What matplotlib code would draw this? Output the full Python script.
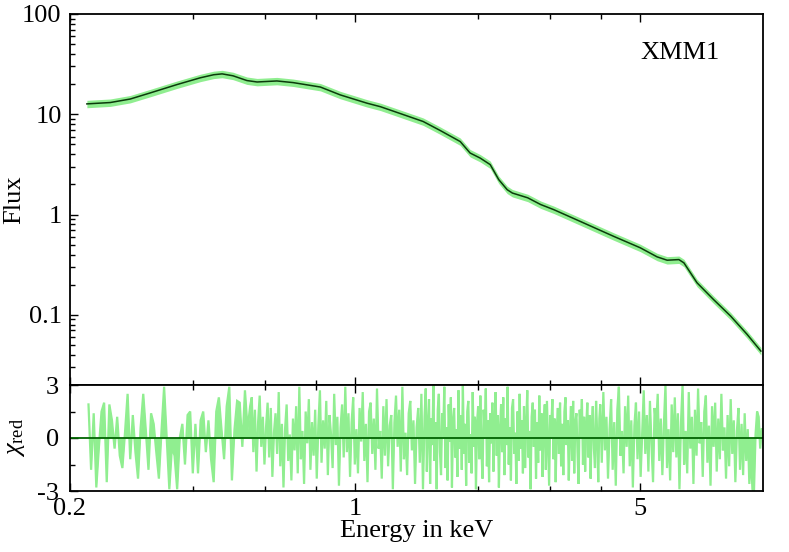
import numpy as np
import matplotlib
matplotlib.use('Agg')
import matplotlib.pyplot as plt
from matplotlib.ticker import FixedLocator, FixedFormatter, NullFormatter

plt.rcParams['font.family'] = ['Liberation Serif', 'DejaVu Serif']
plt.rcParams['mathtext.fontset'] = 'custom'
plt.rcParams['mathtext.rm'] = 'Liberation Serif'
plt.rcParams['mathtext.it'] = 'Liberation Serif:italic'
plt.rcParams['axes.unicode_minus'] = False

# ---- model spectrum (keV, flux) ----
energy_model = [0.220, 0.251, 0.281, 0.314, 0.366, 0.417, 0.450, 0.472, 0.502, 0.543,
                0.575, 0.643, 0.705, 0.822, 0.920, 1.07, 1.154, 1.288, 1.468, 1.616,
                1.81, 1.914, 2.026, 2.144, 2.25, 2.36, 2.43, 2.65, 2.85, 3.07,
                3.56, 4.30, 5.00, 5.50, 5.82, 6.22, 6.40, 6.89, 7.56, 8.33,
                9.14, 9.88]
flux_model = [12.7, 13.1, 14.2, 16.3, 19.8, 23.1, 24.8, 25.3, 24.2, 21.7,
              21.0, 21.5, 20.7, 18.7, 15.6, 12.9, 11.9, 10.2, 8.48, 6.9,
              5.35, 4.11, 3.66, 3.15, 2.23, 1.77, 1.64, 1.47, 1.26, 1.12,
              0.857, 0.608, 0.467, 0.379, 0.351, 0.356, 0.330, 0.209, 0.1426, 0.0973,
              0.064, 0.0436]
band_frac = 0.085   # relative data uncertainty drawn as band

# ---- residuals (chi) per energy segment ----
res_seg1 = [1.9, -1.8, 1.4, -2.8, -0.5, 1.5, 2.0, -2.5, 1.9, 1.0, -0.6, 1.2, -1.0, -1.7, 0.3,
            2.5, -1.2, 1.3, -0.8, -2.3, 0.6, 2.5, 0.4, -1.8, 1.4, 0.8, -0.8, -2.3, 0.4, 2.9,
            0.0, -2.9, -0.5, -1.0, -2.9, 0.0, 0.8, -1.5, 1.3, 1.5, -2.0, 0.8, -2.0, 1.0, 1.5,
            -0.8, 1.0, -1.2, -2.5, 1.5, 2.3, 0.5, -1.2, 1.8, 2.9, -2.4, 0.5, 2.1, 2.0, -0.5,
            2.7, 0.5, 1.8]
res_seg2 = [2.3, -0.8, 1.6, -1.9, 0.9, 2.4, -0.5, 1.2, -1.5, 0.6, 2.0, -1.1, 1.7, -2.2, 0.3,
            1.4, -0.9, 2.6, -1.6, 0.8, -2.8, 0.5, 1.9, -1.3, 0.2, -2.4, 1.1, -0.7, 1.8, -2.0,
            2.9, -1.2, 0.4, -2.6, 1.5, -0.3, 2.2, -1.8, 0.9, -1.0, 1.6, -2.3, 0.7, 2.7, -1.4,
            1.0, -0.6, 2.1, -2.1, 1.3, 0.2, -1.7, 2.5, -0.4, 1.2, -2.7, 0.6, 1.9, -1.1, 2.9,
            -0.8, 1.4, -2.2, 0.9, 2.3, -1.5, 0.5, -2.0, 1.7, -0.2, 2.6, -1.3, 0.8, -2.5, 1.5,
            2.0, -0.9, 1.1, -1.8, 2.8, -0.6, 0.4, -2.3, 1.8, -1.0, 2.2, -1.6, 0.7, 1.3, -2.9,
            0.9, 2.4, -0.5, 1.6, -1.9, 2.9, -1.2, 0.3, -2.1, 1.4, 2.1, -0.7, 1.0, -2.6, 0.6,
            1.7, -1.4, 2.5, -2.9, 1.2]
res_seg3 = [2.8, -1.9, 0.7, 2.2, -2.6, 1.1, -0.4, 3.0, -1.3, 0.9, -2.9, 1.6, 2.5, -0.8, -2.1,
            1.4, 0.3, 2.9, -1.7, 0.6, -2.4, 1.9, -0.2, 2.3, -2.8, 1.0, 1.7, -1.1, 0.5, -2.2,
            2.7, -0.6, 1.3, -1.8, 3.0, -0.9, 0.8, -2.7, 1.5, 2.1, -1.4, 0.2, -2.0, 2.6, -0.5,
            1.2, -2.9, 0.9, 1.8, -1.2, 2.4, -0.7, -2.3, 1.6, 0.4, 2.8, -1.6, 1.0, -2.5, 1.4,
            -0.3, 2.0, -1.9, 0.7, 2.6, -1.0, 1.3, -2.8, 0.5, 1.9, -0.8, 2.3, -2.1, 1.1, -0.4,
            2.9, -1.5, 0.6, -2.4, 1.7, 2.2, -0.9, 0.3, -2.6, 1.5, -1.3, 2.5, -0.6, 1.0, -2.0,
            1.8, -1.7, 0.8, 2.7, -1.1, 0.4, -2.9, 1.2, 2.0, -0.5, 1.6, -2.3, 0.9, -1.4, 2.4,
            -0.7, 1.4, -2.2, 0.6, 1.9, -1.8, 2.1, -0.3, -2.7, 1.3, 0.7, 2.2, -1.2, 1.1, -2.5,
            0.5, 1.7, -0.9, 2.0, -1.6, 0.8, -2.1, 1.5, 2.3, -0.4, 1.0, -2.4, 0.3, 1.8, -1.3,
            2.1, -2.0, 0.9, 1.4, -0.8, -2.6, 1.6, 0.4, 2.2, -1.5, 1.2, -1.9, 0.7, 2.0, -1.1,
            1.3, -2.3, 0.6, 1.8, -0.6, -1.7, 2.1, 0.2, -2.5, 1.1]
res_seg4 = [1.9, -1.4, 2.6, -0.7, 1.2, -2.3, 0.5, 2.2, -1.8, 0.9, -2.7, 1.6, 2.9, -1.0, 0.4,
            -2.0, 1.8, -0.5, 2.4, -1.6, 1.0, -2.8, 0.7, 2.0, -1.2, 1.5, -2.2, 0.3, 2.7, -0.9,
            1.3, -1.9, 2.1, -0.4, -2.5, 1.7, 0.6, 2.5, -1.3, 1.1, -2.1, 0.8, 3.0, -1.7, 0.5,
            -2.4, 1.9, -0.8, 2.3, -1.1, 1.4, -2.9, 0.9, 3.0, -1.5, 0.4, -2.0, 2.6, -0.6, 1.2,
            -2.6, 1.6, -1.0, 2.8, -0.3, 0.9, -2.2, 1.5, 2.4, -1.4, 0.7, -2.7, 1.8, -0.5, 2.0,
            -1.9, 1.1, -1.2, 2.5, -0.7, 0.6, -2.3, 1.3, -1.6, 2.2, -0.9, 1.0, -2.5, 0.4, 1.7,
            -1.8, 0.8, -2.1, 1.4, -1.3, 0.5, -2.6, -1.0, -2.9, -3.0, 0.2, 1.5, 1.2, -0.6, 0.5]
res_ranges = [(0.222, 0.553), (0.558, 1.48), (1.49, 3.97), (3.99, 9.93)]

x_ticks = [0.2, 1, 5]
x_tick_labels = ['0.2', '1', '5']
x_minor = [0.4, 0.6, 0.8, 2, 3, 4]
y_ticks = [0.1, 1, 10, 100]
y_tick_labels = ['0.1', '1', '10', '100']
r_ticks = [-3, 0, 3]
r_tick_labels = ['-3', '0', '3']

res_energy = np.concatenate([np.geomspace(a, b, len(s)) for (a, b), s in
                             zip(res_ranges, [res_seg1, res_seg2, res_seg3, res_seg4])])
res_vals = np.array(res_seg1 + res_seg2 + res_seg3 + res_seg4)

W, H = 789, 552
fig = plt.figure(figsize=(W / 100, H / 100), dpi=100)
L, R = 70 / W, 763 / W
ax = fig.add_axes([L, 1 - 385 / H, R - L, (385 - 14) / H])
axr = fig.add_axes([L, 1 - 491 / H, R - L, (491 - 385) / H])

band = '#90ee90'
line_c = '#0b3a0b'
fs = 19

em = np.array(energy_model)
fm = np.array(flux_model)
ax.fill_between(em, fm * (1 - band_frac), fm * (1 + band_frac), color=band, lw=0)
ax.plot(em, fm, color=line_c, lw=1.1)
ax.set_xscale('log')
ax.set_yscale('log')
ax.set_xlim(0.2, 10)
ax.set_ylim(0.02, 100)

axr.fill_between(res_energy, 0, res_vals, color=band, lw=0)
axr.plot(res_energy, res_vals, color=band, lw=1.6, solid_joinstyle='miter')
axr.axhline(0, color='#006400', lw=1.3)
axr.set_xscale('log')
axr.set_xlim(0.2, 10)
axr.set_ylim(-3, 3)

for a in (ax, axr):
    for s in a.spines.values():
        s.set_linewidth(1.3)
        s.set_zorder(5)
    a.xaxis.set_major_locator(FixedLocator(x_ticks))
    a.xaxis.set_minor_locator(FixedLocator(x_minor))
    a.xaxis.set_minor_formatter(NullFormatter())
    a.tick_params(which='both', direction='in', top=True, bottom=True, left=True, right=False,
                  labelsize=fs, width=1.0)
    a.tick_params(which='major', length=6)
    a.tick_params(which='minor', length=3.5)

ax.tick_params(axis='x', labelbottom=False)
ax.yaxis.set_major_locator(FixedLocator(y_ticks))
ax.yaxis.set_major_formatter(FixedFormatter(y_tick_labels))
ax.yaxis.set_minor_locator(FixedLocator([m * d for d in [0.01, 0.1, 1, 10] for m in range(2, 10)]))
ax.yaxis.set_minor_formatter(NullFormatter())
ax.tick_params(axis='y', pad=6)

axr.xaxis.set_major_formatter(FixedFormatter(x_tick_labels))
axr.yaxis.set_major_locator(FixedLocator(r_ticks))
axr.yaxis.set_major_formatter(FixedFormatter(r_tick_labels))
axr.yaxis.set_minor_locator(FixedLocator([-1.5, 1.5]))
axr.yaxis.set_minor_formatter(NullFormatter())
axr.tick_params(axis='y', pad=8)
axr.tick_params(axis='x', pad=5)

ax.set_ylabel('Flux', fontsize=fs)
ax.yaxis.set_label_coords(-0.065, 0.5)
axr.set_ylabel(r'$\chi_{\rm red}$', fontsize=fs)
axr.yaxis.set_label_coords(-0.062, 0.5)
axr.set_xlabel('Energy in keV', fontsize=fs, labelpad=0)

ax.text(0.8225, 0.895, 'XMM1', transform=ax.transAxes, fontsize=fs, va='center', ha='left')

fig.savefig('out.png', dpi=100)
